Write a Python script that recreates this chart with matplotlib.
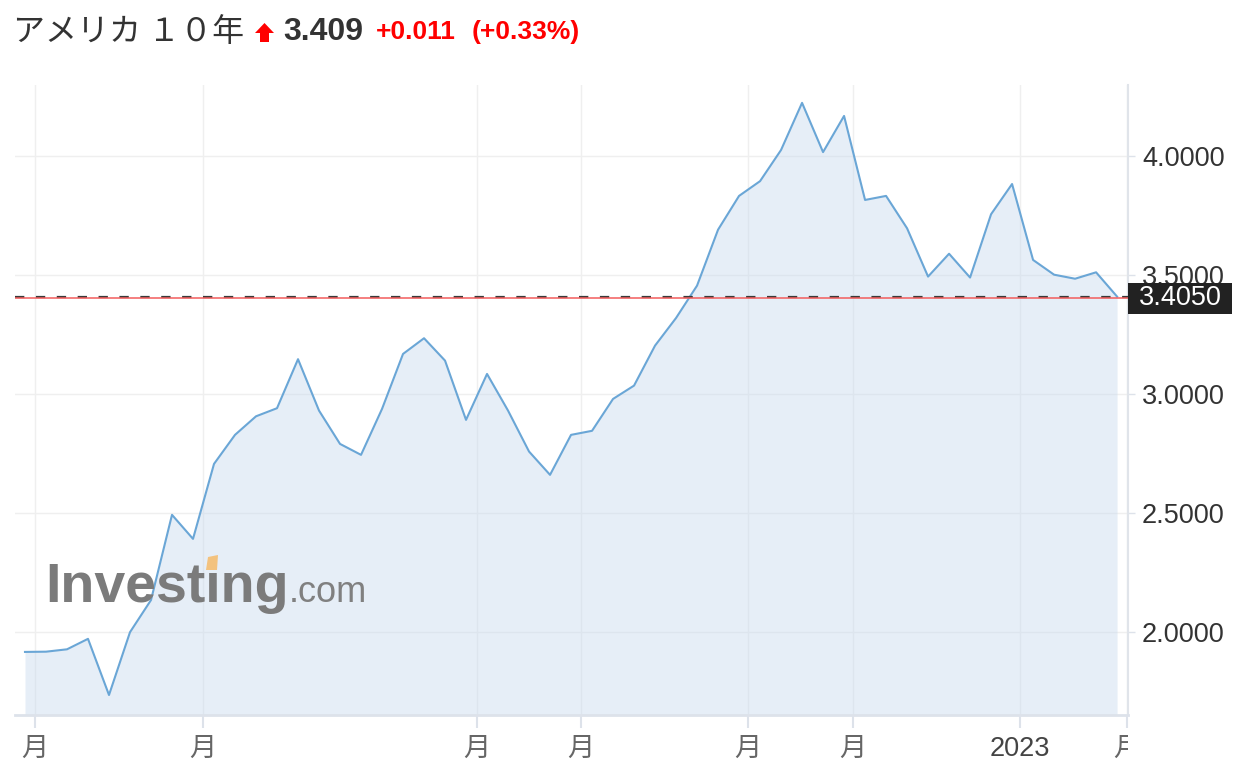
import matplotlib
matplotlib.use('Agg')
import matplotlib.pyplot as plt
from matplotlib.patches import Polygon, Rectangle
from matplotlib import transforms

plt.rcParams['font.family'] = ['Liberation Sans', 'Noto Sans CJK JP', 'DejaVu Sans']

# weekly yields (approx. one year)
yields = [1.916, 1.917, 1.927, 1.971, 1.735, 1.999, 2.134, 2.492, 2.391, 2.706,
          2.828, 2.906, 2.940, 3.146, 2.930, 2.790, 2.744, 2.937, 3.168, 3.234,
          3.140, 2.891, 3.084, 2.930, 2.758, 2.660, 2.828, 2.845, 2.979, 3.035,
          3.203, 3.319, 3.455, 3.690, 3.832, 3.894, 4.025, 4.223, 4.016, 4.168,
          3.815, 3.832, 3.696, 3.493, 3.589, 3.489, 3.755, 3.882, 3.563, 3.501,
          3.484, 3.511, 3.409]
weeks = list(range(len(yields)))

x_tick_pos = [0.48, 8.48, 21.52, 26.48, 34.43, 39.43, 47.38, 52.48]
x_tick_labels = ['月', '月', '月', '月', '月', '月', '2023', '月']
y_ticks = [2.0, 2.5, 3.0, 3.5, 4.0]
last_close = 3.409
current = 3.405

W, H = 1244, 784
fig = plt.figure(figsize=(W / 100, H / 100), dpi=100)
ax = fig.add_axes([15 / W, 69 / H, (1128 - 15) / W, (715 - 85) / H])

ax.fill_between(weeks, yields, 1.0, color='#c9daee', alpha=0.45, lw=0, zorder=1)
ax.plot(weeks, yields, color='#6aa6d6', lw=1.5, zorder=3)

ax.axhline(last_close, color='#3a3a3a', lw=1.6, ls=(0, (4.2, 5.2)), zorder=4)
ax.axhline(current, color='#f25c5c', lw=1.1, zorder=4)

ax.set_xlim(-0.476, 52.52)
ax.set_ylim(1.651, 4.298)

ax.set_yticks(y_ticks)
ax.set_yticklabels(['%.4f' % v for v in y_ticks])
ax.set_xticks(x_tick_pos)
ax.set_xticklabels(x_tick_labels)

ax.yaxis.tick_right()
ax.tick_params(axis='y', direction='out', length=5, width=1, color='#dde2ea',
               pad=5, labelsize=19.5, labelcolor='#333333')
ax.tick_params(axis='x', direction='out', length=9, width=1.5, color='#dde2ea',
               pad=6, labelsize=19.5, labelcolor='#666666')
for lab in ax.get_xticklabels():
    if lab.get_text() == '2023':
        lab.set_color('#444444')

# clip the last tick label at the right edge of the plot
last_tick = ax.xaxis.get_major_ticks()[-1]
last_tick.label1.set_clip_on(True)
last_tick.label1.set_clip_path(Rectangle((0, 0), 1128 / W, 1, transform=fig.transFigure))

ax.grid(True, color='#efefef', lw=1)
ax.set_axisbelow(True)

for s in ['left', 'top']:
    ax.spines[s].set_visible(False)
ax.spines['right'].set_color('#e0e4ea')
ax.spines['right'].set_linewidth(1.5)
ax.spines['bottom'].set_color('#dde2ea')
ax.spines['bottom'].set_linewidth(2)

# current value box on the right axis
blend = transforms.blended_transform_factory(ax.transAxes, ax.transData)
ax.add_patch(Rectangle((1.0, current - 0.068), 104 / 1113, 0.130, transform=blend,
                       facecolor='#222222', edgecolor='none', clip_on=False, zorder=6))
ax.text(1.0 + 11 / 1113, current - 0.004, '%.4f' % current, transform=blend, va='center',
        ha='left', color='white', fontsize=19.5, clip_on=False, zorder=7)

# watermark
fig.text(45 / W, 1 - 602 / H, 'Investing', fontsize=40, fontweight='bold',
         color='#7b7b7b', va='baseline', ha='left', zorder=2)
fig.text(289 / W, 1 - 602 / H, '.com', fontsize=26, color='#808080',
         va='baseline', ha='left', zorder=2)
fig.patches.append(Polygon([(206 / W, 1 - 570 / H), (217 / W, 1 - 570 / H),
                            (218 / W, 1 - 555 / H), (208 / W, 1 - 557 / H)],
                           closed=True, transform=fig.transFigure,
                           facecolor='#f3c27e', edgecolor='none', zorder=3))

# header
ty = 1 - 32 / H
fig.text(13 / W, ty, 'アメリカ １０年', fontsize=23, color='#333333', va='center',
         ha='left', family=['Noto Sans CJK JP'])
arrow = [(264.5, 23), (274, 33), (269, 33), (269, 42), (260, 42), (260, 33), (255, 33)]
fig.patches.append(Polygon([(px / W, 1 - py / H) for px, py in arrow], closed=True,
                           transform=fig.transFigure, facecolor='#ff0000', edgecolor='none'))
fig.text(283 / W, ty, '%.3f' % last_close, fontsize=23, fontweight='bold',
         color='#333333', va='center', ha='left')
fig.text(376 / W, ty, '+0.011', fontsize=19, fontweight='bold',
         color='#ff0000', va='center', ha='left')
fig.text(472 / W, ty, '(+0.33%)', fontsize=19, fontweight='bold',
         color='#ff0000', va='center', ha='left')

plt.savefig('out.png', dpi=100)
